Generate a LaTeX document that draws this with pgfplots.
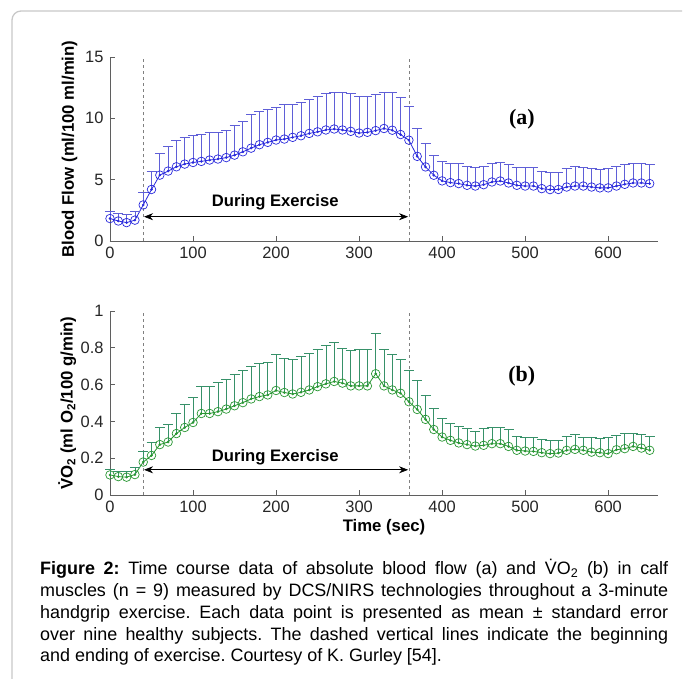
\documentclass[border=0pt]{standalone}
\usepackage{fontspec}
\setmainfont{Liberation Sans}
\newfontfamily\timesfont{Liberation Serif}
\usepackage{pgfplots}
\usepackage{pgfplotstable}
\pgfplotsset{compat=1.18}
\usetikzlibrary{arrows.meta}
\definecolor{bfblue}{RGB}{40,40,220}
\definecolor{errblue}{RGB}{95,95,215}
\definecolor{vogreen}{RGB}{40,150,50}
\definecolor{errgreen}{RGB}{55,145,105}
\definecolor{axgray}{RGB}{95,95,95}
\definecolor{framegray}{RGB}{200,200,200}
\frenchspacing

\pgfplotstableread{
t mean err
0 1.83 0.62
10 1.63 0.60
20 1.50 0.68
30 1.70 0.70
40 2.94 1.01
50 4.20 1.44
60 5.37 1.80
70 5.70 1.98
80 6.05 2.12
90 6.27 2.18
100 6.40 2.18
110 6.49 2.23
120 6.60 2.23
130 6.68 2.18
140 6.80 2.25
150 7.00 2.40
160 7.27 2.48
170 7.57 2.73
180 7.85 2.72
190 8.04 2.72
200 8.23 2.67
210 8.31 2.79
220 8.45 2.72
230 8.58 2.72
240 8.77 2.81
250 8.90 2.87
260 9.05 2.95
270 9.13 3.00
280 9.05 3.08
290 8.94 3.06
300 8.80 2.97
310 8.86 2.91
320 9.00 2.93
330 9.17 2.92
340 9.03 3.06
350 8.68 3.02
360 8.22 2.72
370 6.90 2.27
380 6.04 1.96
390 5.36 1.63
400 4.90 1.63
410 4.76 1.60
420 4.68 1.63
430 4.54 1.55
440 4.48 1.56
450 4.59 1.51
460 4.81 1.56
470 4.89 1.53
480 4.73 1.50
490 4.54 1.50
500 4.48 1.56
510 4.48 1.51
520 4.27 1.41
530 4.19 1.44
540 4.20 1.43
550 4.40 1.56
560 4.48 1.61
570 4.48 1.56
580 4.40 1.56
590 4.33 1.49
600 4.33 1.57
610 4.48 1.61
620 4.62 1.61
630 4.73 1.58
640 4.73 1.58
650 4.68 1.55
}\bloodflow

\pgfplotstableread{
t mean err
0 0.109 0.028
10 0.100 0.030
20 0.097 0.033
30 0.111 0.040
40 0.179 0.060
50 0.215 0.073
60 0.274 0.093
70 0.288 0.097
80 0.334 0.109
90 0.367 0.126
100 0.394 0.137
110 0.443 0.150
120 0.443 0.150
130 0.453 0.158
140 0.467 0.159
150 0.485 0.168
160 0.502 0.175
170 0.522 0.177
180 0.535 0.182
190 0.544 0.179
200 0.568 0.195
210 0.557 0.184
220 0.549 0.186
230 0.558 0.196
240 0.571 0.197
250 0.589 0.205
260 0.604 0.208
270 0.617 0.210
280 0.608 0.191
290 0.593 0.192
300 0.593 0.201
310 0.593 0.197
320 0.659 0.222
330 0.593 0.197
340 0.571 0.192
350 0.553 0.182
360 0.507 0.170
370 0.465 0.157
380 0.411 0.129
390 0.356 0.115
400 0.315 0.101
410 0.297 0.095
420 0.283 0.091
430 0.274 0.087
440 0.266 0.082
450 0.270 0.091
460 0.279 0.091
470 0.279 0.091
480 0.264 0.092
490 0.243 0.076
500 0.239 0.076
510 0.237 0.078
520 0.230 0.071
530 0.225 0.072
540 0.228 0.069
550 0.243 0.076
560 0.248 0.080
570 0.243 0.072
580 0.233 0.079
590 0.230 0.076
600 0.225 0.087
610 0.246 0.079
620 0.252 0.085
630 0.264 0.073
640 0.255 0.075
650 0.243 0.076
}\vo

\pgfplotsset{
  panel/.style={
    scale only axis, width=548bp, height=184bp,
    xmin=0, xmax=660,
    axis x line*=bottom, axis y line*=left,
    axis line style={axgray, line width=0.8bp},
    tick style={axgray, line width=0.8bp},
    tick align=inside, major tick length=5bp,
    xtick={0,100,...,600},
    /pgf/number format/assume math mode=true,
    ticklabel style={font=\fontsize{16.5}{16.5}\selectfont, black!85},
    xticklabel style={yshift=-3bp},
    yticklabel style={xshift=-3bp},
    label style={font=\bfseries\fontsize{16.8}{18}\selectfont},
    clip=false,
  },
}

\begin{document}
\begin{tikzpicture}
\path[use as bounding box] (0,0) rectangle (683bp,679bp);
\draw[framegray, line width=1.3bp, rounded corners=9bp] (12bp,-2bp) -- (12bp,668bp) -- (682bp,668bp);

% Panel (a)
\begin{axis}[panel, at={(110bp,438bp)}, anchor=south west,
  ymin=0, ymax=15, ytick={0,5,10,15},
  ylabel={Blood Flow (ml/100 ml/min)},
  ylabel style={at={(axis description cs:-0.074,0.5)}, anchor=center},
]
\draw[gray, dashed, line width=0.8bp] (axis cs:40,0) -- (axis cs:40,15);
\draw[gray, dashed, line width=0.8bp] (axis cs:360,0) -- (axis cs:360,15);
\addplot[bfblue, line width=0.8bp, mark=o, mark size=4.3bp, mark options={line width=0.7bp},
  error bars/.cd, y dir=plus, y explicit, error mark=|,
  error bar style={errblue, line width=0.7bp},
  error mark options={errblue, mark size=5bp, line width=0.7bp}]
  table[x=t, y=mean, y error=err] {\bloodflow};
\addplot[bfblue, only marks, mark=*, mark size=1.1bp, forget plot] table[x=t, y=mean] {\bloodflow};
\draw[black, line width=0.7bp, {Stealth[length=9bp,width=7bp]}-{Stealth[length=9bp,width=7bp]}] (axis cs:41,1.98) -- (axis cs:359,1.98);
\node[font=\bfseries\fontsize{16.7}{18}\selectfont] at (axis cs:199,3.17) {During Exercise};
\node[font=\timesfont\bfseries\fontsize{22}{24}\selectfont] at (axis cs:496,9.93) {(a)};
\end{axis}

% Panel (b)
\begin{axis}[panel, at={(110bp,184bp)}, anchor=south west,
  ymin=0, ymax=1, ytick={0,0.2,...,1},
  ylabel={\.{V}O\textsubscript{2} (ml O\textsubscript{2}/100 g/min)},
  ylabel style={at={(axis description cs:-0.078,0.5)}, anchor=center},
  xlabel={Time (sec)},
  xlabel style={at={(axis description cs:0.5,-0.174)}, anchor=center},
]
\draw[gray, dashed, line width=0.8bp] (axis cs:40,0) -- (axis cs:40,1);
\draw[gray, dashed, line width=0.8bp] (axis cs:360,0) -- (axis cs:360,1);
\addplot[vogreen, line width=0.8bp, mark=o, mark size=4.3bp, mark options={line width=0.7bp},
  error bars/.cd, y dir=plus, y explicit, error mark=|,
  error bar style={errgreen, line width=0.7bp},
  error mark options={errgreen, mark size=5bp, line width=0.7bp}]
  table[x=t, y=mean, y error=err] {\vo};
\addplot[vogreen, only marks, mark=*, mark size=1.1bp, forget plot] table[x=t, y=mean] {\vo};
\draw[black, line width=0.7bp, {Stealth[length=9bp,width=7bp]}-{Stealth[length=9bp,width=7bp]}] (axis cs:41,0.137) -- (axis cs:359,0.137);
\node[font=\bfseries\fontsize{16.7}{18}\selectfont] at (axis cs:199,0.206) {During Exercise};
\node[font=\timesfont\bfseries\fontsize{22}{24}\selectfont] at (axis cs:496,0.648) {(b)};
\end{axis}

% Caption
\node[anchor=north west, inner sep=0pt, text width=628bp, align=justify,
  font=\fontsize{18}{22}\selectfont] at (40bp,120bp)
{\textbf{Figure 2:} Time course data of absolute blood flow (a) and \.{V}O\textsubscript{2} (b) in calf\linebreak
muscles (n = 9) measured by DCS/NIRS technologies throughout a 3-minute\linebreak
handgrip exercise. Each data point is presented as mean ± standard error\linebreak
over nine healthy subjects. The dashed vertical lines indicate the beginning\linebreak
and ending of exercise. Courtesy of K. Gurley [54].};
\end{tikzpicture}
\end{document}
